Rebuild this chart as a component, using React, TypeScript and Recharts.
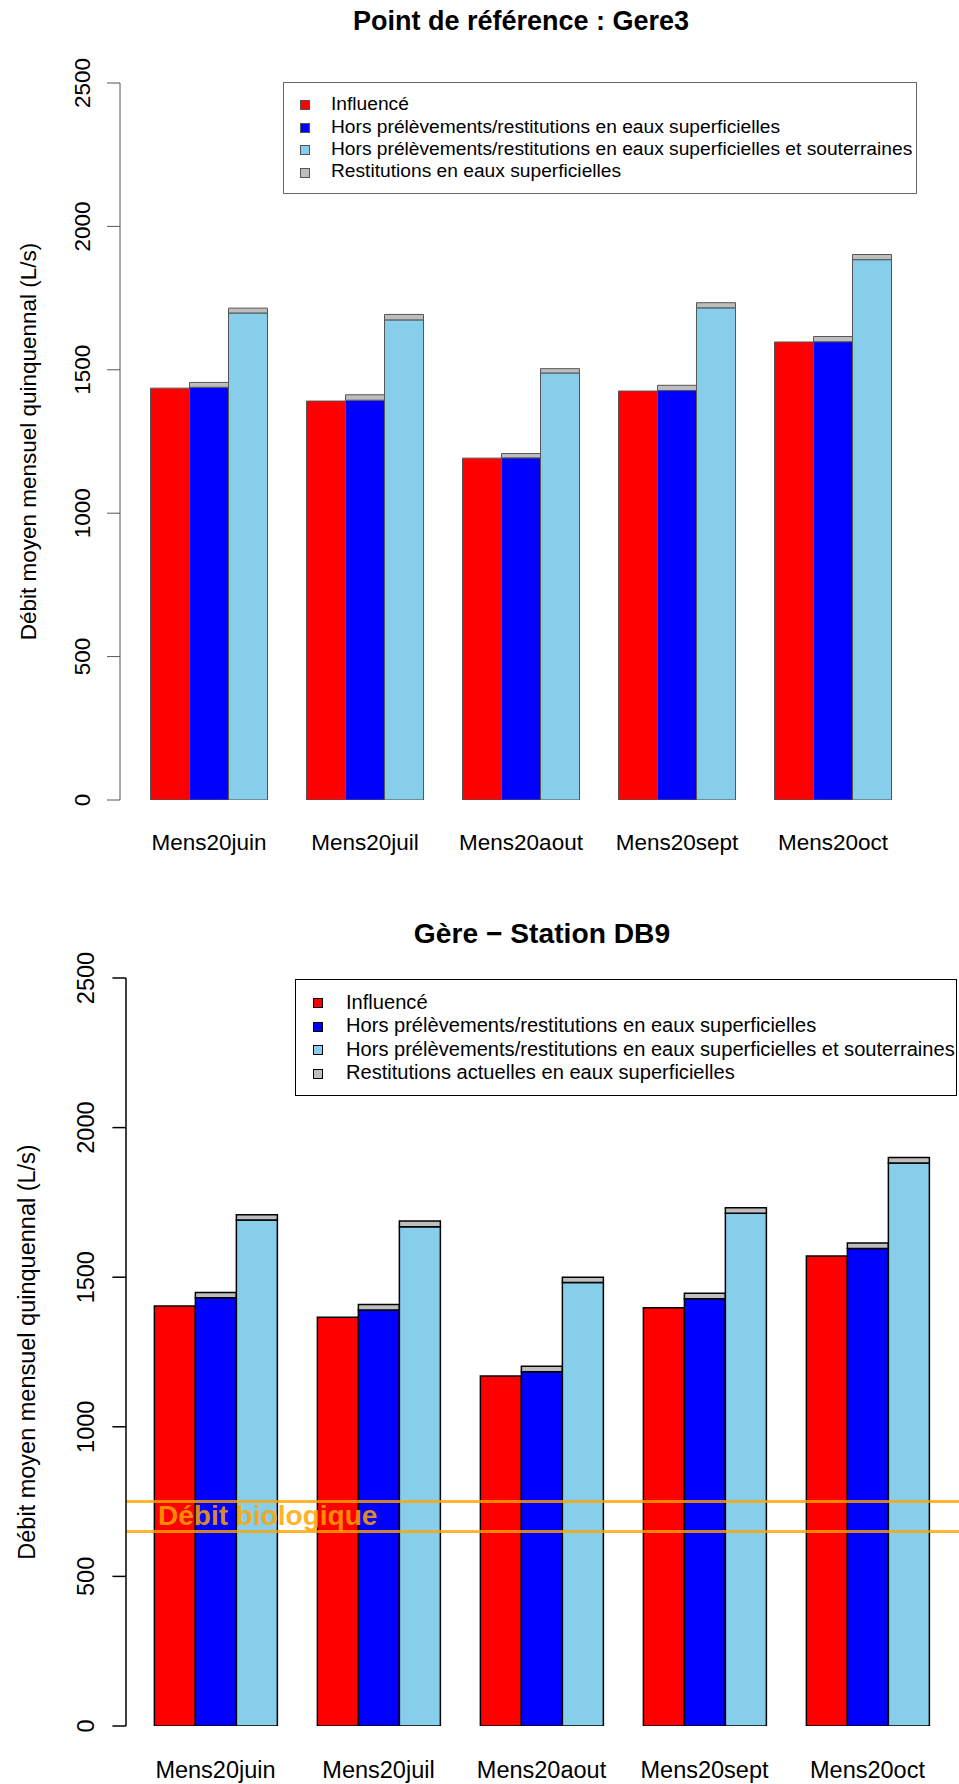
import { BarChart, Bar, XAxis, YAxis, ReferenceLine, Legend } from 'recharts'

const FONT = '"Liberation Sans", Arial, sans-serif'

const mois = ['Mens20juin', 'Mens20juil', 'Mens20aout', 'Mens20sept', 'Mens20oct']
const yTicks = [0, 500, 1000, 1500, 2000, 2500]

// Point de référence : Gere3
const influenceGere3 = [1436, 1391, 1192, 1426, 1597]
const horsSupGere3 = [1439, 1394, 1193, 1428, 1598]
const horsSupSoutGere3 = [1698, 1674, 1489, 1716, 1884]
const restitGere3 = [17, 19, 15, 18, 18]

// Gère - Station DB9
const influenceDB9 = [1404, 1366, 1170, 1398, 1571]
const horsSupDB9 = [1431, 1390, 1184, 1428, 1596]
const horsSupSoutDB9 = [1691, 1669, 1482, 1714, 1882]
const restitDB9 = [18, 19, 18, 18, 18]

// débit biologique (bornes basse / haute)
const debitBiologique = [650, 750]

const couleurs = ['#FF0000', '#0000FF', '#87CEEB', '#BEBEBE']
const legendeGere3 = [
  'Influencé',
  'Hors prélèvements/restitutions en eaux superficielles',
  'Hors prélèvements/restitutions en eaux superficielles et souterraines',
  'Restitutions en eaux superficielles',
]
const legendeDB9 = [
  'Influencé',
  'Hors prélèvements/restitutions en eaux superficielles',
  'Hors prélèvements/restitutions en eaux superficielles et souterraines',
  'Restitutions actuelles en eaux superficielles',
]

const Y_TITRE = 'Débit moyen mensuel quinquennal (L/s)'

function construire(influence: number[], horsSup: number[], horsSupSout: number[], restit: number[]) {
  return mois.map((m, i) => ({
    mois: m,
    influence: influence[i],
    horsSup: horsSup[i],
    restitSup: restit[i],
    horsSupSout: horsSupSout[i],
    restitSout: restit[i],
  }))
}

interface Cadre {
  top: number
  height: number
  marginTop: number
  marginRight: number
  axeY: number
  axeX: number
  padLeft: number
  padRight: number
  s: number
  titreX: number
  titreY: number
  labelX: number
  yTitreX: number
  trait: string
  epaisseur: number
  leg: { left: number; top: number; width: number; height: number; sqX: number; txtX: number; pas: number; fs: number; bord: string }
}

const cadreGere3: Cadre = {
  top: 0, height: 890, marginTop: 83, marginRight: 38, axeY: 120, axeX: 90,
  padLeft: 11, padRight: 10, s: 1, titreX: 521, titreY: 30, labelX: 82, yTitreX: 28,
  trait: '#555', epaisseur: 1,
  leg: { left: 283, top: 82, width: 634, height: 112, sqX: 16, txtX: 47, pas: 22.4, fs: 19.2, bord: '#666' },
}

const cadreDB9: Cadre = {
  top: 890, height: 894, marginTop: 88, marginRight: 0, axeY: 126, axeX: 58,
  padLeft: 8, padRight: 10, s: 1.045, titreX: 542, titreY: 53, labelX: 86, yTitreX: 27,
  trait: '#000', epaisseur: 1.5,
  leg: { left: 295, top: 89, width: 662, height: 117, sqX: 17, txtX: 50, pas: 23.4, fs: 20.1, bord: '#000' },
}

interface GraphiqueProps {
  titre: string
  data: ReturnType<typeof construire>
  legende: string[]
  c: Cadre
  seuils?: number[]
}

function Graphique({ titre, data, legende, c, seuils }: GraphiqueProps) {
  const fs = 22.5 * c.s

  const YTick = ({ y, payload }: { y: number; payload: { value: number } }) => (
    <text
      transform={`translate(${c.labelX + fs * 0.36},${y}) rotate(-90)`}
      textAnchor="middle"
      fontSize={fs}
      fontFamily={FONT}
      fill="#000"
    >
      {payload.value}
    </text>
  )

  const XTick = ({ x, y, payload }: { x: number; y: number; payload: { value: string } }) => (
    <text x={x} y={y + 50 * c.s} textAnchor="middle" fontSize={fs} fontFamily={FONT} fill="#000">
      {payload.value}
    </text>
  )

  const yTitre = (props: { viewBox?: { y: number; height: number } }) => {
    const vb = props.viewBox || { y: 0, height: 0 }
    return (
      <text
        transform={`translate(${c.yTitreX + fs * 0.36},${vb.y + vb.height / 2}) rotate(-90)`}
        textAnchor="middle"
        fontSize={fs}
        fontFamily={FONT}
        fill="#000"
      >
        {Y_TITRE}
      </text>
    )
  }

  const debitBioLabel = (props: { viewBox?: { x: number; y: number } }) => {
    const vb = props.viewBox || { x: 0, y: 0 }
    return (
      <text
        x={vb.x + 32}
        y={vb.y + 23.5}
        fontSize={28}
        fontWeight="bold"
        fontFamily={FONT}
        fill="#FFA500"
        fillOpacity={0.85}
      >
        Débit biologique
      </text>
    )
  }

  const l = c.leg
  const renderLegende = () => (
    <div
      style={{
        width: l.width,
        height: l.height,
        boxSizing: 'border-box',
        border: `${c.epaisseur}px solid ${l.bord}`,
        background: '#fff',
        position: 'relative',
        fontFamily: FONT,
        fontSize: l.fs,
        color: '#000',
      }}
    >
      {legende.map((txt, i) => (
        <div key={txt}>
          <div
            style={{
              position: 'absolute',
              left: l.sqX,
              top: l.pas * (i + 1) - 5,
              width: 10,
              height: 10,
              boxSizing: 'border-box',
              background: couleurs[i],
              border: `1px solid ${c.trait}`,
            }}
          />
          <div
            style={{
              position: 'absolute',
              left: l.txtX,
              top: l.pas * (i + 1) - l.fs * 0.58,
              lineHeight: 1,
              whiteSpace: 'nowrap',
            }}
          >
            {txt}
          </div>
        </div>
      ))}
    </div>
  )

  return (
    <div style={{ position: 'absolute', left: 0, top: c.top }}>
      <BarChart
        width={959}
        height={c.height}
        data={data}
        margin={{ top: c.marginTop, right: c.marginRight, bottom: 0, left: 0 }}
        barCategoryGap="12.5%"
        barGap={0}
      >
        <XAxis
          dataKey="mois"
          height={c.axeX}
          axisLine={false}
          tickLine={false}
          tickSize={0}
          tickMargin={0}
          interval={0}
          padding={{ left: c.padLeft, right: c.padRight }}
          tick={XTick}
        />
        <YAxis
          width={c.axeY}
          domain={[0, 2500]}
          ticks={yTicks}
          interval={0}
          tickSize={13 * c.s}
          tickMargin={0}
          axisLine={{ stroke: c.trait, strokeWidth: c.epaisseur }}
          tickLine={{ stroke: c.trait, strokeWidth: c.epaisseur }}
          tick={YTick}
          label={yTitre}
          allowDataOverflow
        />
        <Legend
          layout="horizontal"
          verticalAlign="middle"
          align="center"
          wrapperStyle={{ left: l.left, top: l.top, width: l.width, height: l.height }}
          content={renderLegende}
        />
        <Bar dataKey="influence" stackId="inf" fill={couleurs[0]} stroke={c.trait} strokeWidth={c.epaisseur} isAnimationActive={false} />
        <Bar dataKey="horsSup" stackId="sup" fill={couleurs[1]} stroke={c.trait} strokeWidth={c.epaisseur} isAnimationActive={false} />
        <Bar dataKey="restitSup" stackId="sup" fill={couleurs[3]} stroke={c.trait} strokeWidth={c.epaisseur} isAnimationActive={false} />
        <Bar dataKey="horsSupSout" stackId="sout" fill={couleurs[2]} stroke={c.trait} strokeWidth={c.epaisseur} isAnimationActive={false} />
        <Bar dataKey="restitSout" stackId="sout" fill={couleurs[3]} stroke={c.trait} strokeWidth={c.epaisseur} isAnimationActive={false} />
        {seuils &&
          seuils.map((v, i) => (
            <ReferenceLine
              key={v}
              y={v}
              stroke="#FFA500"
              strokeWidth={3}
              strokeOpacity={0.8}
              label={i === seuils.length - 1 ? debitBioLabel : undefined}
            />
          ))}
        <text
          x={c.titreX}
          y={c.titreY}
          textAnchor="middle"
          fontSize={27 * c.s}
          fontWeight="bold"
          fontFamily={FONT}
          fill="#000"
        >
          {titre}
        </text>
      </BarChart>
    </div>
  )
}

export default function App() {
  const dataGere3 = construire(influenceGere3, horsSupGere3, horsSupSoutGere3, restitGere3)
  const dataDB9 = construire(influenceDB9, horsSupDB9, horsSupSoutDB9, restitDB9)
  return (
    <div style={{ position: 'absolute', left: 0, top: 0, width: 959, height: 1784, background: '#fff' }}>
      <Graphique titre="Point de référence : Gere3" data={dataGere3} legende={legendeGere3} c={cadreGere3} />
      <Graphique
        titre="Gère − Station DB9"
        data={dataDB9}
        legende={legendeDB9}
        c={cadreDB9}
        seuils={debitBiologique}
      />
    </div>
  )
}
